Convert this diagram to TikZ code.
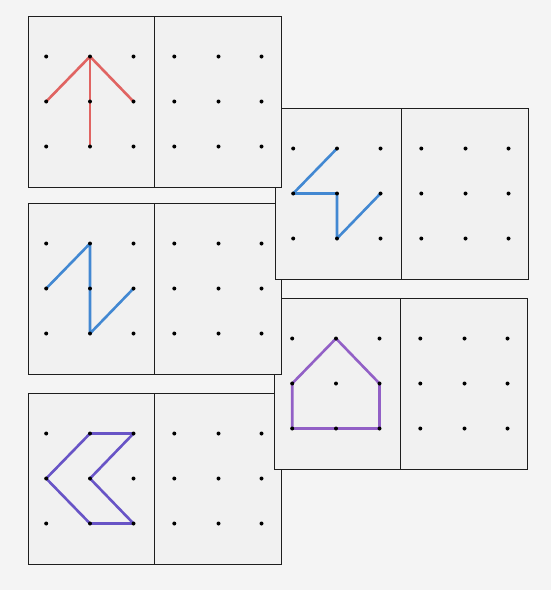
\documentclass[tikz,border=0pt]{standalone}
\definecolor{bgcol}{RGB}{244,244,244}
\definecolor{cardcol}{RGB}{241,241,241}
\definecolor{edgecol}{RGB}{30,30,30}
\definecolor{redcol}{RGB}{224,100,98}
\definecolor{bluecol}{RGB}{66,136,210}
\definecolor{housecol}{RGB}{146,96,198}
\definecolor{chevcol}{RGB}{104,84,198}
\tikzset{
  cardfill/.style={fill=cardcol},
  cardline/.style={draw=edgecol, line width=1.6pt},
  gdot/.style={fill=black},
  figline/.style={line width=2.6pt, line join=round, line cap=round},
}
\newcommand{\gridcard}[3]{%
  \begin{scope}[shift={(#2,#3)}]
    \fill[cardfill] (0,0) rectangle (253,171);
    \draw[cardline] (0,0) rectangle (253,171);
    \draw[cardline] (126,0) -- (126,171);
    \foreach \i/\xx in {0/17.7,1/61.5,2/105}{
      \foreach \j/\yy in {0/40,1/85,2/130}{
        \coordinate (#1L\i\j) at (\xx,\yy);
      }
    }
    \foreach \i/\xx in {0/145.8,1/190,2/233}{
      \foreach \j/\yy in {0/40,1/85,2/130}{
        \coordinate (#1R\i\j) at (\xx,\yy);
      }
    }
  \end{scope}}
\newcommand{\carddots}[1]{%
  \foreach \i in {0,1,2}{\foreach \j in {0,1,2}{
    \fill[gdot] (#1L\i\j) circle (2pt);
    \fill[gdot] (#1R\i\j) circle (2pt);}}}
\begin{document}
\begin{tikzpicture}[x=1pt,y=-1pt]
  \useasboundingbox (0,0) rectangle (551,590);
  \fill[bgcol] (0,0) rectangle (551,590);
  % card 5 (bottom of stack)
  \gridcard{e}{28.5}{393.5}
  \draw[figline, chevcol] (eL10) -- (eL20) -- (eL11) -- (eL22) -- (eL12) -- (eL01) -- cycle;
  \carddots{e}
  % card 4
  \gridcard{d}{274.5}{298.5}
  \draw[figline, housecol] (dL10) -- (dL21) -- (dL22) -- (dL12) -- (dL02) -- (dL01) -- cycle;
  \carddots{d}
  % card 3
  \gridcard{c}{28.5}{203.5}
  \draw[figline, bluecol] (cL01) -- (cL10) -- (cL12) -- (cL21);
  \carddots{c}
  % card 2
  \gridcard{b}{275.5}{108.5}
  \draw[figline, bluecol] (bL10) -- (bL01) -- (bL11) -- (bL12) -- (bL21);
  \carddots{b}
  % card 1 (top of stack)
  \gridcard{a}{28.5}{16.5}
  \draw[figline, redcol] (aL10) -- (aL01);
  \draw[figline, redcol] (aL10) -- (aL21);
  \draw[figline, redcol] (aL10) -- (aL12);
  \carddots{a}
\end{tikzpicture}
\end{document}
